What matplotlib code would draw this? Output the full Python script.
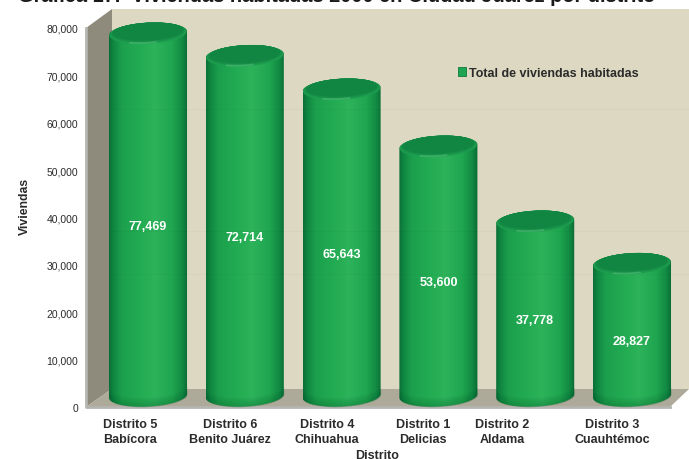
import numpy as np
import matplotlib
matplotlib.use("Agg")
import matplotlib.pyplot as plt
from matplotlib.colors import LinearSegmentedColormap, to_rgb
from matplotlib.patches import Patch, PathPatch, Polygon
from matplotlib.path import Path

plt.rcParams['font.family'] = ['Liberation Sans', 'DejaVu Sans']

distritos = ['Distrito 5\nBabícora', 'Distrito 6\nBenito Juárez', 'Distrito 4\nChihuahua',
			 'Distrito 1\nDelicias', 'Distrito 2\nAldama', 'Distrito 3\nCuauhtémoc']
viviendas = [77469, 72714, 65643, 53600, 37778, 28827]
y_ticks = [0, 10000, 20000, 30000, 40000, 50000, 60000, 70000, 80000]
titulo = 'Gráfica 17.  Viviendas habitadas 2000 en Ciudad Juárez por distrito'
leyenda = 'Total de viviendas habitadas'

# layout, all in reference pixels
W, H = 689, 460
AX_L, AX_R, AX_B, AX_T = 86, 689, 408, 10
BAR_0, BAR_STEP = 148, 96.8
label_px = [130, 230, 327, 423, 502, 612]
seam_px = [110, 232, 275]

TEXT = '#2b2b2b'
cyl_cmap = LinearSegmentedColormap.from_list('cyl', [
	(0.00, '#0b6e37'), (0.05, '#0f8540'), (0.16, '#1c9f4d'), (0.38, '#22ab52'),
	(0.58, '#2db35a'), (0.80, '#1fa650'), (0.93, '#128a43'), (1.00, '#0a6a35')])


def px_to_x(px):
	return (px - BAR_0) / BAR_STEP


def wall(ax, pts, color, zorder=1):
	# pts are pixels, converted to axes fractions
	frac = [((x - AX_L) / (AX_R - AX_L), (AX_B - y) / (AX_B - AX_T)) for x, y in pts]
	ax.add_patch(Polygon(frac, closed=True, transform=ax.transAxes, facecolor=color,
						 edgecolor='none', clip_on=False, zorder=zorder))


def arc(cx, cy, rx, ry, tilt, t0, t1, n=60):
	t = np.linspace(t0, t1, n)
	x = cx + rx * np.cos(t)
	y = cy + ry * np.sin(t) + tilt * (x - cx)
	return x, y


def draw_cylinder(ax, cx, value, rx=0.403, ry=2250, tilt=1000):
	y_base = ry + 100
	y_top = value + 1400
	xb, yb = arc(cx, y_base, rx, ry, tilt, np.pi, 2 * np.pi)
	xt, yt = arc(cx, y_top, rx, ry, tilt, 0, np.pi)
	verts = np.column_stack([np.r_[xb, xt], np.r_[yb, yt]])
	body = PathPatch(Path(np.vstack([verts, verts[0]]), closed=True), facecolor='none',
					 edgecolor='none', zorder=3)
	ax.add_patch(body)
	grad = np.linspace(0, 1, 256).reshape(1, -1)
	im = ax.imshow(grad, extent=[cx - rx, cx + rx, 0, y_top + ry + 1000], cmap=cyl_cmap,
				   aspect='auto', zorder=3)
	im.set_clip_path(body)

	# darker bevel round the base
	for k in range(8):
		lift = 200 + k * 260
		xa, ya = arc(cx, y_base + lift, rx, ry, tilt, np.pi, 2 * np.pi)
		ax.fill_between(xb, yb, ya, color='#06552a', alpha=0.04, lw=0, zorder=4)

	# soft cap: ellipses shrinking from the rim colour to the dark top
	rim, cap = np.array(to_rgb('#1f9f50')), np.array(to_rgb('#118542'))
	for f in np.linspace(0, 1, 6):
		xc, yc = arc(cx, y_top + 420 * f, rx * (0.99 - 0.09 * f), ry * (0.98 - 0.16 * f), tilt, 0, 2 * np.pi)
		ax.fill(xc, yc, color=rim + (cap - rim) * f, lw=0, zorder=5)

	# highlight on the front of the rim
	xh, yh = arc(cx - 0.03, y_top + 60, rx * 0.92, ry * 0.93, tilt, 1.36 * np.pi, 1.6 * np.pi)
	ax.plot(xh, yh, color='#62c486', lw=1.3, alpha=0.45, zorder=7, solid_capstyle='round')


fig = plt.figure(figsize=(W / 100, H / 100), dpi=100)
ax = fig.add_axes([AX_L / W, (H - AX_B) / H, (AX_R - AX_L) / W, (AX_B - AX_T) / H])
for s in ax.spines.values():
	s.set_visible(False)
ax.patch.set_alpha(0)

# the 3d box
wall(ax, [(112, 10), (689, 10), (689, 390), (112, 390)], '#ddd8c1')
wall(ax, [(86, 29), (112, 10), (112, 390), (86, 408)], '#8f8b7c')
wall(ax, [(86, 408), (112, 390), (689, 390), (670, 408)], '#aeaa99')
ax.plot([0, 0, (670 - AX_L) / 603], [(408 - 29) / 398, 0, 0], color='#b4b4b0', lw=2,
		transform=ax.transAxes, clip_on=False, zorder=2)

for i, v in enumerate(viviendas):
	draw_cylinder(ax, i, v)
	ax.text(i, v / 2 - 500, f'{v:,}', color='white', fontsize=9, fontweight='bold', ha='center',
			va='center', zorder=9)

ax.set_xlim(px_to_x(AX_L), px_to_x(AX_R))
ax.set_ylim(0, 84000)

# faint horizontal seams that run across the whole plot
for p in seam_px:
	ax.plot([(112 - AX_L) / 603, 1], [(408 - p) / 398] * 2, color='black', lw=0.8, alpha=0.025,
			transform=ax.transAxes, zorder=8)

ax.set_yticks(y_ticks)
ax.set_yticklabels([f'{t:,}' for t in y_ticks], fontsize=7.5, color=TEXT)
ax.set_xticks([px_to_x(p) for p in label_px])
ax.set_xticklabels(distritos, fontsize=9, fontweight='bold', color=TEXT, linespacing=1.32)
ax.tick_params(axis='both', length=0)
ax.tick_params(axis='y', pad=5.5)
ax.tick_params(axis='x', pad=8)

handle = Patch(facecolor='#1fa551', edgecolor='#0f7a3c', lw=0.6)
ax.legend([handle], [leyenda], loc='center left', bbox_to_anchor=((458 - AX_L) / 603, (408 - 74) / 398),
		  frameon=False, handlelength=0.65, handleheight=0.65, handletextpad=0.2, borderpad=0, borderaxespad=0,
		  prop={'size': 9, 'weight': 'bold'}, labelcolor=TEXT)

fig.text(25 / W, 1 - 206 / H, 'Viviendas', rotation=90, fontsize=8.8, fontweight='bold', color=TEXT,
		 ha='center', va='center')
fig.text(377 / W, 1 - 456 / H, 'Distrito', fontsize=9, fontweight='bold', color=TEXT,
		 ha='center', va='center')
fig.text(336.5 / W, 1 - 1.5 / H, titulo, fontsize=14.45, fontweight='bold', color='#1a1a1a',
		 ha='center', va='baseline')

fig.savefig('out.png', dpi=100)
